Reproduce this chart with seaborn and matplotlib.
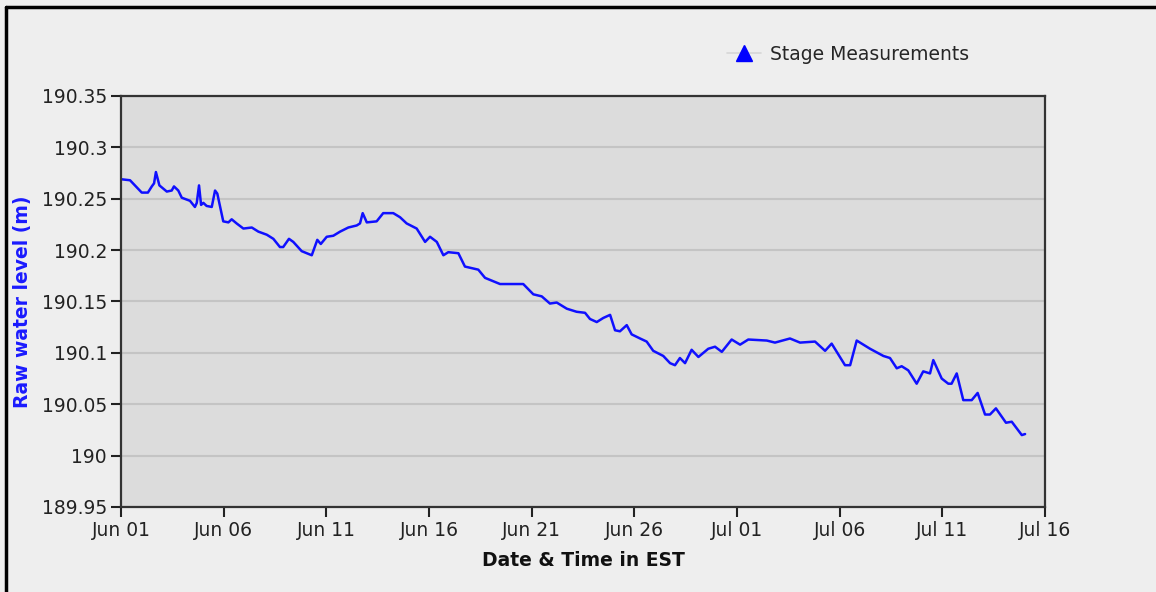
import numpy as np
import pandas as pd
import seaborn as sns
import matplotlib.pyplot as plt
import matplotlib.dates as mdates
from matplotlib.lines import Line2D

# Stage readings, days since Jun 01 and water level (m)
days = [0.00, 0.44, 0.68, 1.01, 1.31, 1.50, 1.61, 1.70, 1.87, 2.23, 2.47, 2.58, 2.79, 2.96,
        3.36, 3.60, 3.69, 3.80, 3.90, 4.01, 4.17, 4.42, 4.58, 4.69, 4.98, 5.23, 5.39, 5.63,
        5.96, 6.37, 6.69, 7.10, 7.42, 7.74, 7.90, 8.18, 8.39, 8.80, 9.29, 9.56, 9.73, 10.02,
        10.34, 10.67, 11.07, 11.48, 11.64, 11.77, 11.97, 12.45, 12.77, 13.26, 13.59, 13.91,
        14.40, 14.81, 15.05, 15.38, 15.70, 15.94, 16.43, 16.75, 17.40, 17.73, 18.46, 19.59,
        20.08, 20.49, 20.89, 21.22, 21.71, 22.19, 22.60, 22.84, 23.17, 23.49, 23.82, 24.06,
        24.30, 24.63, 24.87, 25.28, 25.60, 25.92, 26.41, 26.74, 26.98, 27.22, 27.47, 27.79,
        28.12, 28.60, 28.93, 29.26, 29.74, 30.15, 30.55, 31.45, 31.85, 32.58, 33.07, 33.80,
        34.29, 34.61, 35.26, 35.51, 35.83, 36.48, 37.13, 37.45, 37.78, 38.02, 38.34, 38.75,
        39.07, 39.40, 39.56, 39.97, 40.29, 40.45, 40.70, 41.02, 41.43, 41.72, 42.08, 42.32,
        42.61, 43.10, 43.24, 43.38, 43.87, 44.03]
level = [190.269, 190.268, 190.263, 190.256, 190.256, 190.262, 190.265, 190.276, 190.263,
         190.257, 190.258, 190.262, 190.258, 190.251, 190.248, 190.242, 190.246, 190.263,
         190.244, 190.246, 190.243, 190.242, 190.258, 190.255, 190.228, 190.227, 190.230,
         190.226, 190.221, 190.222, 190.218, 190.215, 190.211, 190.203, 190.203, 190.211,
         190.208, 190.199, 190.195, 190.210, 190.206, 190.213, 190.214, 190.218, 190.222,
         190.224, 190.226, 190.236, 190.227, 190.228, 190.236, 190.236, 190.232, 190.226,
         190.221, 190.208, 190.213, 190.208, 190.195, 190.198, 190.197, 190.184, 190.181,
         190.173, 190.167, 190.167, 190.157, 190.155, 190.148, 190.149, 190.143, 190.140,
         190.139, 190.133, 190.130, 190.134, 190.137, 190.122, 190.121, 190.127, 190.118,
         190.114, 190.111, 190.102, 190.097, 190.090, 190.088, 190.095, 190.090, 190.103,
         190.096, 190.104, 190.106, 190.101, 190.113, 190.108, 190.113, 190.112, 190.110,
         190.114, 190.110, 190.111, 190.102, 190.109, 190.088, 190.088, 190.112, 190.104,
         190.097, 190.095, 190.085, 190.087, 190.083, 190.070, 190.082, 190.080, 190.093,
         190.075, 190.070, 190.070, 190.080, 190.054, 190.054, 190.061, 190.040, 190.040,
         190.046, 190.032, np.nan, 190.033, 190.020, 190.021]

y_ticks = [189.95, 190.0, 190.05, 190.1, 190.15, 190.2, 190.25, 190.3, 190.35]
y_tick_labels = ['189.95', '190', '190.05', '190.1', '190.15', '190.2', '190.25', '190.3', '190.35']

start = pd.Timestamp('2013-06-01')
df = pd.DataFrame({'time': start + pd.to_timedelta(days, unit='D'), 'level': level})

sns.set_style('white')
plt.rcParams['font.family'] = ['DejaVu Sans']

fig = plt.figure(figsize=(11.56, 5.92), dpi=100, facecolor='#eeeeee')
ax = fig.add_axes([121 / 1156, 1 - 507 / 592, 924 / 1156, 411 / 592])
ax.set_facecolor('#dcdcdc')

sns.lineplot(data=df, x='time', y='level', ax=ax, color='#1010ff', linewidth=1.8)

ax.set_xlim(start, start + pd.Timedelta(days=45))
ax.set_ylim(189.95, 190.35)
ax.set_yticks(y_ticks)
ax.set_yticklabels(y_tick_labels)
ax.xaxis.set_major_locator(mdates.DayLocator(bymonthday=[1, 6, 11, 16, 21, 26]))
ax.xaxis.set_major_formatter(mdates.DateFormatter('%b %d'))

ax.grid(axis='y', color='#c4c4c4', linewidth=1.5)
ax.grid(axis='x', visible=False)
for s in ax.spines.values():
    s.set_color('#333333')
    s.set_linewidth(1.6)
ax.tick_params(axis='both', direction='out', length=7, width=1.5, color='#222222',
               labelsize=13.5, labelcolor='#222222', pad=3, left=True, bottom=True)

ax.set_xlabel('Date & Time in EST', fontsize=13.5, fontweight='bold', color='#111111', labelpad=8)
ax.set_ylabel('Raw water level (m)', fontsize=13.5, fontweight='bold', color='#1a1aff', labelpad=7)

handle = Line2D([], [], color='#d6d6d6', linewidth=1.2, marker='^', markersize=11,
                markerfacecolor='#0000ff', markeredgecolor='#0000ff')
fig.legend([handle], ['Stage Measurements'], loc='center left', bbox_to_anchor=(710 / 1156, 1 - 54 / 592),
           frameon=False, fontsize=13.5, handlelength=1.8, handletextpad=0.5)

# black frame on the left and top of the picture
fig.add_artist(Line2D([6 / 1156, 6 / 1156], [0, 1 - 7 / 592], color='black', linewidth=2.5))
fig.add_artist(Line2D([6 / 1156, 1], [1 - 7 / 592, 1 - 7 / 592], color='black', linewidth=2.5))

fig.savefig('out.png', dpi=100, facecolor=fig.get_facecolor())
